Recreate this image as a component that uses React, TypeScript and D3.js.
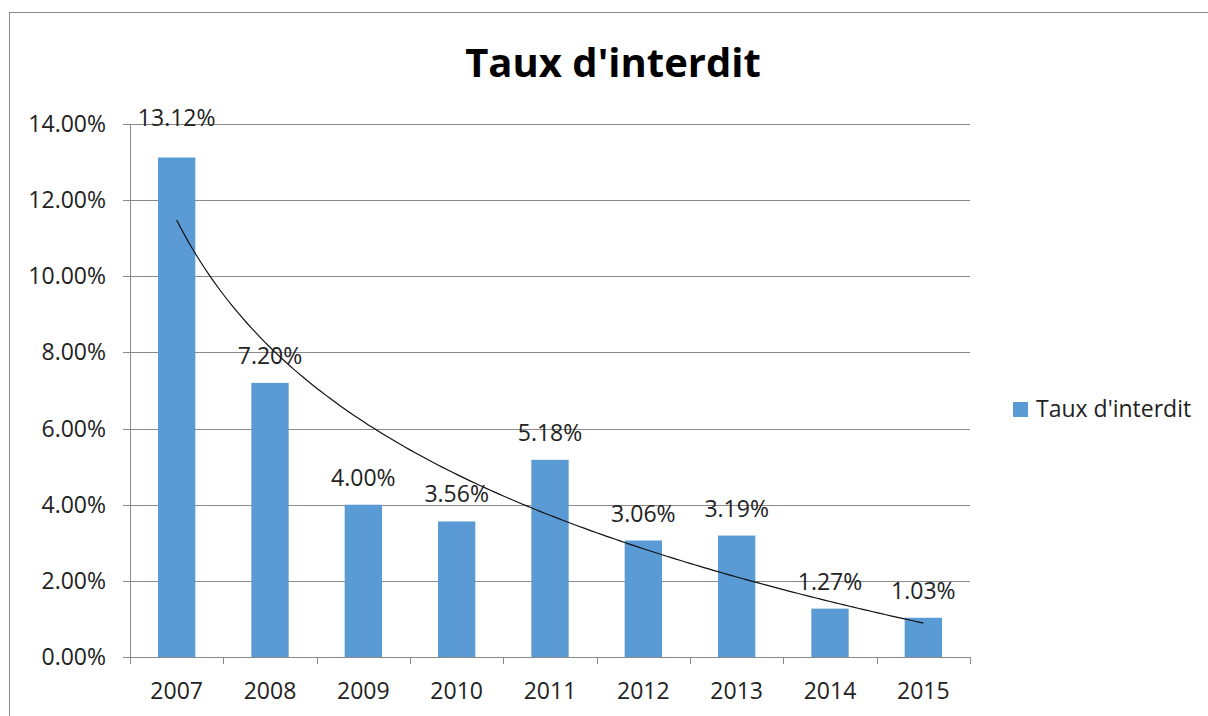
import React from "react";
import * as d3 from "d3";

const years = ["2007", "2008", "2009", "2010", "2011", "2012", "2013", "2014", "2015"];
const rates = [0.1312, 0.072, 0.04, 0.0356, 0.0518, 0.0306, 0.0319, 0.0127, 0.0103];
const yTicks = [0, 0.02, 0.04, 0.06, 0.08, 0.1, 0.12, 0.14];
const title = "Taux d'interdit";
const seriesName = "Taux d'interdit";

const FONT = "'Open Sans', 'Liberation Sans', sans-serif";
const BAR = "#5b9bd5";
const GRID = "#8a8a8a";

export default function App() {
  const left = 130, right = 970, top = 124, bottom = 657;
  const x = d3.scaleBand<string>().domain(years).range([left, right]).paddingInner(0.6).paddingOuter(0.3);
  const y = d3.scaleLinear().domain([0, 0.14]).range([bottom, top]);
  const fmt = d3.format(".2%");
  const step = x.step();

  // logarithmic trendline (least squares on ln(x))
  const xs = rates.map((_, i) => Math.log(i + 1));
  const mx = d3.mean(xs) as number;
  const my = d3.mean(rates) as number;
  let sxy = 0, sxx = 0;
  xs.forEach((v, i) => { sxy += (v - mx) * (rates[i] - my); sxx += (v - mx) * (v - mx); });
  const slope = sxy / sxx;
  const intercept = my - slope * mx;
  const cx = (i: number) => (x(years[i]) as number) + x.bandwidth() / 2;
  const tx = d3.scaleLinear().domain([1, years.length]).range([cx(0), cx(years.length - 1)]);
  const pts = d3.range(1, years.length + 0.001, 0.05).map((t) => [tx(t), y(intercept + slope * Math.log(t))] as [number, number]);
  const trend = d3.line()(pts) as string;

  return (
    <svg width={1208} height={716} style={{ position: "absolute", left: 0, top: 0, background: "#fff" }} fontFamily={FONT}>
      <rect x={9.5} y={12.5} width={1400} height={900} fill="#fff" stroke={GRID} strokeWidth={1} />
      <text x={613} y={77} textAnchor="middle" fontSize={40} fontWeight="bold" fill="#000">{title}</text>

      {yTicks.map((t) => (
        <g key={t}>
          <line x1={left - 7} x2={right} y1={Math.round(y(t)) + 0.5} y2={Math.round(y(t)) + 0.5} stroke={GRID} strokeWidth={1} />
          <text x={106} y={y(t) + 8} textAnchor="end" fontSize={23} fill="#222">{fmt(t)}</text>
        </g>
      ))}
      <line x1={left + 0.5} x2={left + 0.5} y1={top} y2={bottom} stroke={GRID} strokeWidth={1} />
      {d3.range(years.length + 1).map((i) => (
        <line key={i} x1={Math.round(left + i * step) + 0.5} x2={Math.round(left + i * step) + 0.5} y1={bottom} y2={bottom + 7} stroke={GRID} strokeWidth={1} />
      ))}

      {rates.map((v, i) => (
        <rect key={years[i]} x={x(years[i])} y={y(v)} width={x.bandwidth()} height={bottom - y(v)} fill={BAR} />
      ))}

      <path d={trend} fill="none" stroke="#111" strokeWidth={1.2} />

      {rates.map((v, i) => (
        <text key={"l" + i} x={cx(i)} y={v > 0.9 * 0.14 ? top + 2 : y(v) - 19} textAnchor="middle" fontSize={23} fill="#222">{fmt(v)}</text>
      ))}

      {years.map((yr, i) => (
        <text key={"x" + yr} x={cx(i)} y={699} textAnchor="middle" fontSize={23} fill="#222">{yr}</text>
      ))}

      <rect x={1013} y={402} width={15} height={15} fill={BAR} />
      <text x={1036} y={417} fontSize={23} fill="#222">{seriesName}</text>
    </svg>
  );
}
